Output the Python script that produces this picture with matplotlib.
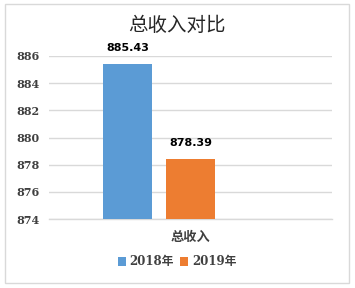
import matplotlib
matplotlib.use("Agg")
import matplotlib.pyplot as plt
from matplotlib.patches import Rectangle

# Data
categories = ["总收入"]
series_names = ["2018年", "2019年"]
values_2018 = [885.43]
values_2019 = [878.39]
series_values = [values_2018, values_2019]
colors = ["#5b9bd5", "#ed7d31"]
y_ticks = [874, 876, 878, 880, 882, 884, 886]

W, H = 355, 288
fig = plt.figure(figsize=(W / 100, H / 100), dpi=100)

# chart border
fig.patches.append(Rectangle((5 / W, 1 - 283 / H), 344 / W, 279 / H,
                             transform=fig.transFigure, fill=False,
                             edgecolor="#d9d9d9", linewidth=1.0))

ax = fig.add_axes([49 / W, 1 - 219 / H, 283 / W, 163 / H])

slot = 0.2226
bar_w = 0.173
n_slots = 3
for i, (name, vals, c) in enumerate(zip(series_names, series_values, colors)):
    xs = [k + (i - (n_slots - 1) / 2) * slot for k in range(len(categories))]
    ax.bar(xs, vals, width=bar_w, color=c, label=name, zorder=3)
    for x, v in zip(xs, vals):
        ax.annotate(f"{v:.2f}", xy=(x, v), xytext=(0, 11.5), textcoords="offset points",
                    ha="center", va="center", fontsize=8, fontweight="bold",
                    color="#000000", family="DejaVu Sans")

ax.set_ylim(874, 886)
ax.set_xlim(-0.5, len(categories) - 0.5)
ax.set_yticks(y_ticks)
ax.set_yticklabels([str(t) for t in y_ticks], family="DejaVu Serif", fontsize=8,
                   fontweight="bold", color="#404040")
ax.set_xticks(range(len(categories)))
ax.set_xticklabels(categories, family=["Noto Sans CJK SC", "DejaVu Sans"], fontsize=9.5,
                   fontweight="bold", color="#404040")
ax.tick_params(axis="both", length=0)
ax.tick_params(axis="y", pad=7)
ax.tick_params(axis="x", pad=8)
ax.grid(axis="y", color="#d9d9d9", linewidth=1.0, zorder=0)
for s in ["top", "right", "left"]:
    ax.spines[s].set_visible(False)
ax.spines["bottom"].set_color("#d9d9d9")
ax.spines["bottom"].set_linewidth(1.0)

fig.text(177 / W, 1 - 25 / H, "总收入对比", ha="center", va="center",
         fontsize=14, color="#262626", family=["Noto Sans CJK SC", "DejaVu Sans"])

leg = fig.legend(loc="center", bbox_to_anchor=(177 / W, 1 - 262 / H), ncol=2,
                 frameon=False, handlelength=0.7, handleheight=0.7, handletextpad=0.3,
                 columnspacing=0.5,
                 prop={"family": ["DejaVu Serif", "Noto Sans CJK SC"], "size": 8.5,
                       "weight": "bold"})
for t in leg.get_texts():
    t.set_color("#404040")

fig.savefig("out.png", dpi=100)
